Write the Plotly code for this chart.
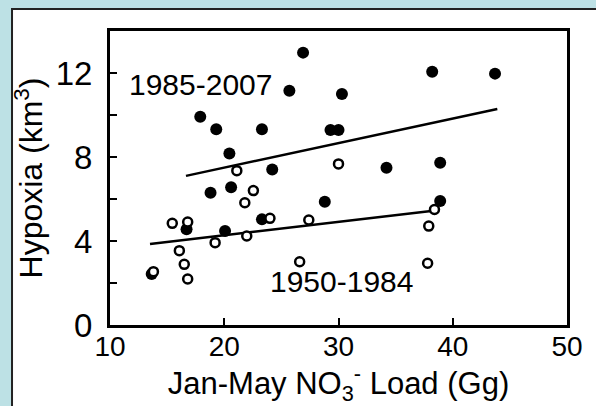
import plotly.graph_objects as go

# Data
recent_x = [13.65, 16.7, 17.9, 18.8, 19.3, 20.07, 20.45, 20.6, 23.3, 23.3, 24.2,
            25.7, 26.9, 28.8, 29.3, 30.0, 30.3, 34.2, 38.2, 38.9, 38.9, 43.7]
recent_y = [2.43, 4.56, 9.92, 6.30, 9.32, 4.48, 8.17, 6.56, 9.32, 5.03, 7.41,
            11.16, 12.97, 5.87, 9.29, 9.29, 11.0, 7.49, 12.06, 7.73, 5.9, 11.97]

early_x = [13.8, 15.45, 16.8, 16.07, 16.5, 16.8, 19.2, 21.1, 21.8, 21.97, 22.55,
           24.0, 26.6, 27.4, 30.0, 37.8, 37.9, 38.4]
early_y = [2.54, 4.84, 4.9, 3.54, 2.89, 2.19, 3.92, 7.35, 5.82, 4.24, 6.40,
           5.08, 3.01, 5.0, 7.67, 2.94, 4.71, 5.5]

fit_recent_x = [16.65, 43.9]
fit_recent_y = [7.1, 10.29]
fit_early_x = [13.5, 38.3]
fit_early_y = [3.86, 5.44]

y_tickvals = [0, 4, 8, 12]
y_ticktext = ["0", "4", "8", "12"]
x_tickvals = [10, 20, 30, 40, 50]
x_ticktext = ["10", "20", "30", "40", "50"]

FONT = "Liberation Sans, Arial, sans-serif"

fig = go.Figure()
fig.add_trace(go.Scatter(x=fit_recent_x, y=fit_recent_y, mode="lines",
                         line=dict(color="black", width=2.5), showlegend=False))
fig.add_trace(go.Scatter(x=fit_early_x, y=fit_early_y, mode="lines",
                         line=dict(color="black", width=2.5), showlegend=False))
fig.add_trace(go.Scatter(x=recent_x, y=recent_y, mode="markers",
                         marker=dict(color="black", size=12, line=dict(width=0)),
                         showlegend=False))
fig.add_trace(go.Scatter(x=early_x, y=early_y, mode="markers",
                         marker=dict(color="white", size=9,
                                     line=dict(color="black", width=2.5)),
                         showlegend=False))

fig.add_annotation(x=17.88, y=11.45, text="1985-2007", showarrow=False,
                   font=dict(family=FONT, size=30, color="black"))
fig.add_annotation(x=30.3, y=2.05, text="1950-1984", showarrow=False,
                   font=dict(family=FONT, size=30, color="black"))

# white panel with dark border on the light blue page
fig.add_shape(type="rect", xref="paper", yref="paper",
              x0=-0.2144, x1=1.2, y0=-0.4, y1=1.0748,
              fillcolor="white", line=dict(color="#222222", width=2), layer="below")

fig.update_layout(
    width=596, height=406,
    margin=dict(l=110, r=29, t=31, b=81),
    paper_bgcolor="#bde1e5",
    plot_bgcolor="white",
    font=dict(family=FONT, color="black"),
)
fig.update_xaxes(range=[10, 50], tickvals=x_tickvals, ticktext=x_ticktext,
                 ticks="inside", ticklen=7, tickwidth=2, tickcolor="black",
                 showline=True, linewidth=3, linecolor="black", mirror=True,
                 showgrid=False, zeroline=False,
                 tickfont=dict(size=28, family=FONT), ticklabelstandoff=-6,
                 title=dict(text="Jan-May NO<sub>3</sub><sup>-</sup> Load (Gg)",
                            font=dict(size=31, family=FONT), standoff=0))
fig.update_yaxes(range=[0, 14], tickvals=y_tickvals, ticktext=y_ticktext,
                 ticks="inside", ticklen=7, tickwidth=2, tickcolor="black",
                 minor=dict(ticks="inside", ticklen=7, tickwidth=2, tickcolor="black",
                            tick0=0, dtick=2, showgrid=False),
                 showline=True, linewidth=3, linecolor="black", mirror=True,
                 showgrid=False, zeroline=False,
                 tickfont=dict(size=33, family=FONT), ticklabelstandoff=8,
                 title=dict(text="Hypoxia (km<sup>3</sup>)",
                            font=dict(size=32, family=FONT), standoff=4))

fig.write_html("out.html")
